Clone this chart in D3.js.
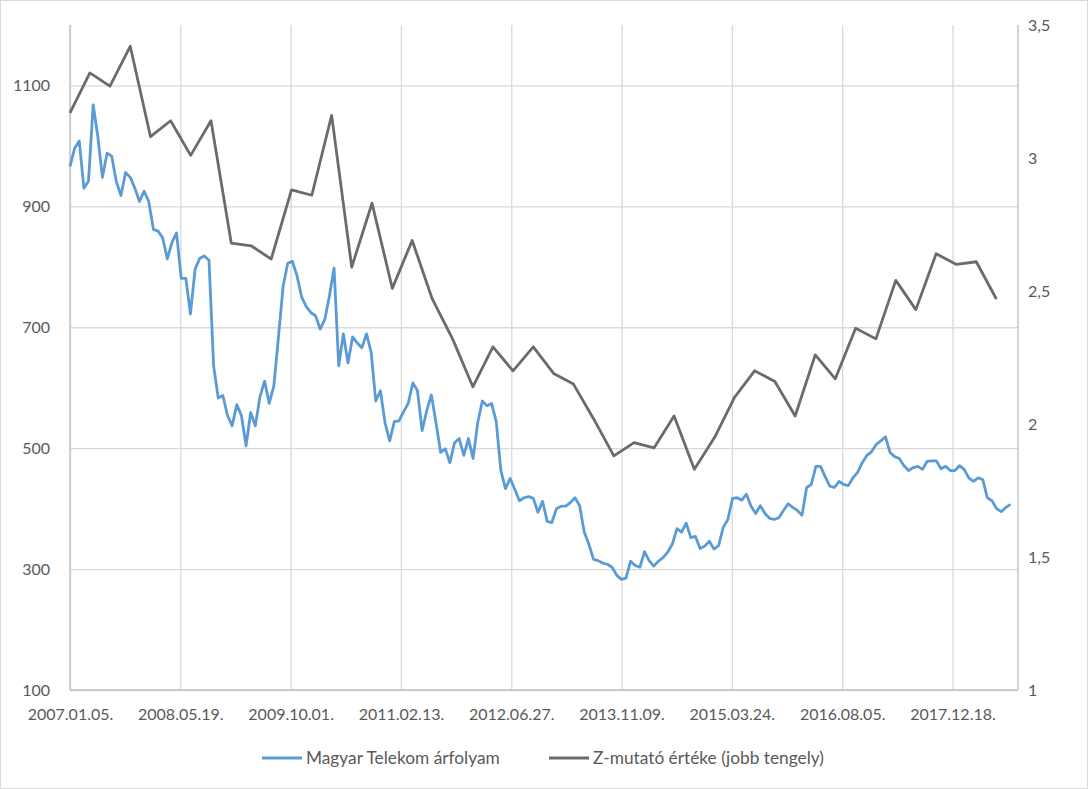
<!DOCTYPE html>
<html>
<head>
<meta charset="utf-8">
<script src="https://cdn.jsdelivr.net/npm/d3@7"></script>
<style>
  body { margin: 0; background: #fff; }
  svg text { font-family: Lato, "Open Sans", sans-serif; fill: #595959; }
</style>
</head>
<body>
<div id="chart"></div>
<script>
// share price, one reading every 3 weeks from the first date
const priceStart = "2007-01-05"
const priceStepDays = 21
const priceValues = [
  966, 996, 1008, 930, 942, 1068, 1016, 948, 988, 983, 941, 918, 956, 948, 930, 908, 925, 908, 862, 859,
  848, 813, 840, 856, 781, 781, 722, 796, 814, 818, 811, 636, 583, 587, 554, 537, 572, 554, 504, 559,
  537, 585, 611, 574, 603, 684, 768, 806, 809, 785, 750, 734, 724, 719, 697, 713, 752, 798, 636, 689,
  641, 684, 674, 666, 689, 659, 578, 595, 542, 512, 544, 545, 560, 574, 608, 595, 529, 562, 588, 542,
  493, 499, 476, 509, 516, 488, 516, 483, 542, 578, 570, 574, 544, 463, 433, 450, 432, 413, 418, 420,
  417, 394, 412, 379, 377, 400, 404, 404, 410, 418, 405, 361, 341, 316, 314, 310, 308, 303, 290, 283,
  285, 313, 306, 303, 329, 314, 305, 313, 319, 328, 341, 367, 361, 376, 352, 354, 334, 338, 346, 333,
  339, 369, 382, 417, 418, 414, 424, 404, 392, 405, 392, 384, 382, 385, 397, 408, 402, 397, 389, 435,
  440, 470, 470, 453, 437, 435, 445, 440, 438, 451, 460, 476, 488, 494, 506, 512, 519, 493, 486, 483,
  471, 463, 468, 470, 465, 478, 479, 479, 466, 470, 463, 463, 471, 465, 451, 445, 451, 448, 418, 413,
  400, 395, 402, 407
]

// Z-score, quarterly from the first date
const zStart = "2007-01-05"
const zStepMonths = 3
const zValues = [
  3.17, 3.32, 3.27, 3.42, 3.08, 3.14, 3.01, 3.14, 2.68, 2.67, 2.62, 2.88, 2.86, 3.16, 2.59, 2.83,
  2.51, 2.69, 2.47, 2.32, 2.14, 2.29, 2.20, 2.29, 2.19, 2.15, 2.02, 1.88, 1.93, 1.91, 2.03, 1.83,
  1.95, 2.10, 2.20, 2.16, 2.03, 2.26, 2.17, 2.36, 2.32, 2.54, 2.43, 2.64, 2.60, 2.61, 2.47
]

const axisEnd = "2018-10-11"
const xTickLabels = ["2007.01.05.", "2008.05.19.", "2009.10.01.", "2011.02.13.", "2012.06.27.",
  "2013.11.09.", "2015.03.24.", "2016.08.05.", "2017.12.18."]
const leftTicks = [100, 300, 500, 700, 900, 1100]
const rightTicks = [1, 1.5, 2, 2.5, 3, 3.5]
const seriesNames = ["Magyar Telekom árfolyam", "Z-mutató értéke (jobb tengely)"]

const W = 1088, H = 789
const margin = {top: 25, right: 70, bottom: 99, left: 70}
const width = W - margin.left - margin.right
const height = H - margin.top - margin.bottom

const parseDay = d3.timeParse("%Y-%m-%d")
const parseLabel = d3.timeParse("%Y.%m.%d.")

const price = priceValues.map((v, i) => ({date: d3.timeDay.offset(parseDay(priceStart), i * priceStepDays), value: v}))
const zscore = zValues.map((v, i) => ({date: d3.timeMonth.offset(parseDay(zStart), i * zStepMonths), value: v}))

const x = d3.scaleTime().domain([parseDay(priceStart), parseDay(axisEnd)]).range([0, width])
const yLeft = d3.scaleLinear().domain([100, 1200]).range([height, 0])
const yRight = d3.scaleLinear().domain([1, 3.5]).range([height, 0])

const svg = d3.select("#chart").append("svg")
  .attr("width", W)
  .attr("height", H)

svg.append("rect")
  .attr("x", 0.5).attr("y", 0.5)
  .attr("width", W - 1).attr("height", H - 1)
  .attr("fill", "#fff")
  .attr("stroke", "#d9d9d9")

const g = svg.append("g")
  .attr("transform", `translate(${margin.left},${margin.top})`)

// grid
const xTicks = xTickLabels.map(parseLabel)

g.append("g")
  .attr("class", "grid")
  .attr("transform", `translate(0,${height})`)
  .call(d3.axisBottom(x).tickValues(xTicks).tickSize(-height).tickFormat(""))

g.append("g")
  .attr("class", "grid")
  .call(d3.axisLeft(yLeft).tickValues(leftTicks).tickSize(-width).tickFormat(""))

g.selectAll(".grid .domain").remove()
g.selectAll(".grid line").attr("stroke", "#d9d9d9").attr("stroke-width", 1.3)

// axis lines
g.append("line")
  .attr("x1", 0).attr("x2", 0).attr("y1", 0).attr("y2", height)
  .attr("stroke", "#bfbfbf").attr("stroke-width", 1.3)
g.append("line")
  .attr("x1", width).attr("x2", width).attr("y1", 0).attr("y2", height)
  .attr("stroke", "#bfbfbf").attr("stroke-width", 1.3)
g.append("line")
  .attr("x1", 0).attr("x2", width).attr("y1", height).attr("y2", height)
  .attr("stroke", "#bfbfbf").attr("stroke-width", 1.3)

// tick labels
const xAxis = g.append("g")
  .attr("transform", `translate(0,${height})`)
  .call(d3.axisBottom(x).tickValues(xTicks).tickSize(0).tickPadding(19).tickFormat(d3.timeFormat("%Y.%m.%d.")))

const leftAxis = g.append("g")
  .call(d3.axisLeft(yLeft).tickValues(leftTicks).tickSize(0).tickPadding(20).tickFormat(d3.format("d")))

const rightAxis = g.append("g")
  .attr("transform", `translate(${width},0)`)
  .call(d3.axisRight(yRight).tickValues(rightTicks).tickSize(0).tickPadding(10)
    .tickFormat(d => String(d).replace(".", ",")))

;[xAxis, leftAxis, rightAxis].forEach(a => {
  a.select(".domain").remove()
  a.selectAll("text").attr("font-size", 16).attr("fill", "#595959")
})

// lines
const priceLine = d3.line()
  .x(d => x(d.date))
  .y(d => yLeft(d.value))

const zLine = d3.line()
  .x(d => x(d.date))
  .y(d => yRight(d.value))

g.append("path")
  .datum(zscore)
  .attr("fill", "none")
  .attr("stroke", "#6b6b6b")
  .attr("stroke-width", 2.8)
  .attr("stroke-linejoin", "round")
  .attr("d", zLine)

g.append("path")
  .datum(price)
  .attr("fill", "none")
  .attr("stroke", "#5b9bd5")
  .attr("stroke-width", 2.8)
  .attr("stroke-linejoin", "round")
  .attr("d", priceLine)

// legend
const legend = svg.append("g").attr("transform", "translate(0,758)")
const legendItems = [
  {name: seriesNames[0], color: "#5b9bd5", x: 262},
  {name: seriesNames[1], color: "#6b6b6b", x: 549}
]
legendItems.forEach(it => {
  legend.append("line")
    .attr("x1", it.x).attr("x2", it.x + 40)
    .attr("y1", 0).attr("y2", 0)
    .attr("stroke", it.color).attr("stroke-width", 2.8)
  legend.append("text")
    .attr("x", it.x + 44)
    .attr("y", 0)
    .attr("dy", "0.35em")
    .attr("font-size", 17.3)
    .text(it.name)
})
</script>
</body>
</html>
